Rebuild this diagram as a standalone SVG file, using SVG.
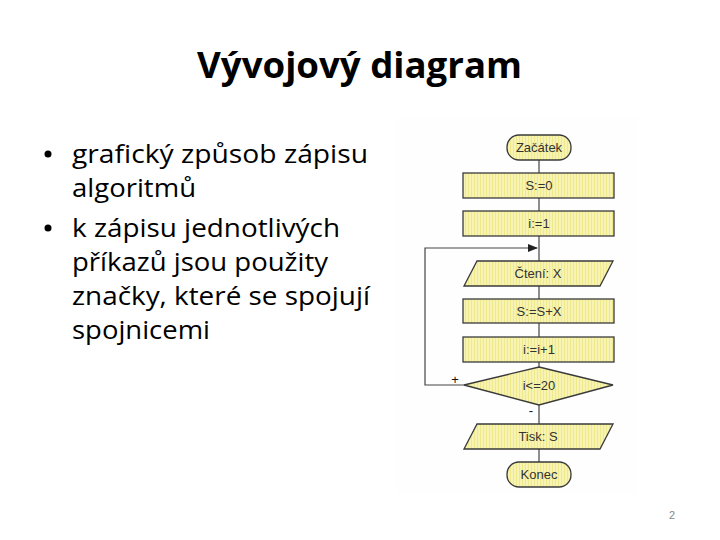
<svg xmlns="http://www.w3.org/2000/svg" width="720" height="540" viewBox="0 0 720 540">
<defs>
<style>
.title{font-family:"Open Sans","Noto Sans","Liberation Sans",sans-serif;font-weight:bold;font-size:36px;fill:#000}
.body{font-family:"Open Sans","Noto Sans","Liberation Sans",sans-serif;font-size:26px;fill:#000}
.node{fill:#f6f2a6;stroke:#3a3a3a;stroke-width:1.3}
.lbl{font-family:"Liberation Sans",Arial,sans-serif;font-size:13px;fill:#333;text-anchor:middle}
.conn{fill:none;stroke:#444;stroke-width:1.2}
.pn{font-family:"Liberation Sans",sans-serif;font-size:11px;fill:#888}
</style>
<pattern id="tex" width="3" height="3" patternUnits="userSpaceOnUse">
<rect width="3" height="3" fill="#f7f3b2"/>
<rect width="1" height="3" fill="#efe98c"/>
</pattern>
<marker id="arr" markerWidth="10" markerHeight="8" refX="9" refY="4" orient="auto" markerUnits="userSpaceOnUse">
<path d="M0,0 L10,4 L0,8 Z" fill="#222"/>
</marker>
</defs>
<rect width="720" height="540" fill="#fff"/>
<rect x="396" y="117" width="241" height="377" fill="#fefefe"/>

<text class="title" x="197" y="78" textLength="325" lengthAdjust="spacingAndGlyphs">Vývojový diagram</text>

<g id="bullets">
<circle cx="48" cy="154" r="3.5" fill="#000"/>
<text class="body" x="72" y="163" textLength="296" lengthAdjust="spacingAndGlyphs">grafický způsob zápisu</text>
<text class="body" x="72" y="197" textLength="124" lengthAdjust="spacingAndGlyphs">algoritmů</text>
<circle cx="48" cy="228" r="3.5" fill="#000"/>
<text class="body" x="72" y="237" textLength="268" lengthAdjust="spacingAndGlyphs">k zápisu jednotlivých</text>
<text class="body" x="72" y="271" textLength="256" lengthAdjust="spacingAndGlyphs">příkazů jsou použity</text>
<text class="body" x="72" y="305" textLength="298" lengthAdjust="spacingAndGlyphs">značky, které se spojují</text>
<text class="body" x="72" y="339" textLength="138" lengthAdjust="spacingAndGlyphs">spojnicemi</text>
</g>

<g id="connectors">
<path class="conn" d="M539,160 V173 M539,198 V211 M539,236 V261 M539,286 V299 M539,323 V337 M539,362 V367 M539,405 V424 M539,449 V462"/>
<path class="conn" d="M464,385 H425 V248 H537" marker-end="url(#arr)"/>
<text class="lbl" x="455" y="384" style="fill:#111">+</text>
<text class="lbl" x="531" y="415" style="fill:#111">-</text>
</g>

<g id="start">
<rect class="node" style="fill:url(#tex)" x="507" y="135" width="64" height="25" rx="12"/>
<text class="lbl" x="539" y="152">Začátek</text>
</g>
<g id="s0">
<rect class="node" style="fill:url(#tex)" x="463" y="173" width="151" height="25"/>
<text class="lbl" x="539" y="190">S:=0</text>
</g>
<g id="i1">
<rect class="node" style="fill:url(#tex)" x="463" y="211" width="151" height="25"/>
<text class="lbl" x="539" y="228">i:=1</text>
</g>
<g id="read">
<polygon class="node" style="fill:url(#tex)" points="477,261 613,261 600,286 464,286"/>
<text class="lbl" x="538" y="278">Čtení: X</text>
</g>
<g id="sum">
<rect class="node" style="fill:url(#tex)" x="463" y="299" width="151" height="24"/>
<text class="lbl" x="539" y="316">S:=S+X</text>
</g>
<g id="inc">
<rect class="node" style="fill:url(#tex)" x="463" y="337" width="151" height="25"/>
<text class="lbl" x="539" y="354">i:=i+1</text>
</g>
<g id="cond">
<polygon class="node" style="fill:url(#tex)" points="539,367 613,385 539,405 464,385"/>
<text class="lbl" x="539" y="390">i&lt;=20</text>
</g>
<g id="print">
<polygon class="node" style="fill:url(#tex)" points="477,424 613,424 600,449 464,449"/>
<text class="lbl" x="538" y="441">Tisk: S</text>
</g>
<g id="end">
<rect class="node" style="fill:url(#tex)" x="507" y="462" width="64" height="25" rx="12"/>
<text class="lbl" x="539" y="479">Konec</text>
</g>

<text class="pn" x="669" y="519">2</text>
</svg>
